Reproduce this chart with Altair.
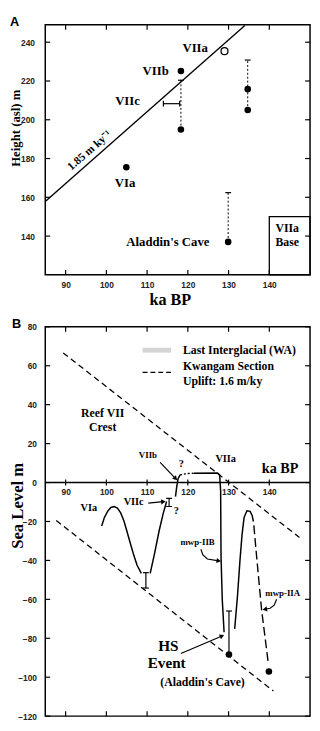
import math
import altair as alt
import pandas as pd

SERIF = "Liberation Serif"
SANS = "Liberation Sans"
W = 270
HA = 255
HB = 397

# ---------------- Panel A data ----------------
A_KA = [85, 150]
A_H = [120, 249]
A_KA_TICKS = [90, 100, 110, 120, 130, 140]
A_H_TICKS = [140, 160, 180, 200, 220, 240]

uplift_ka = [85.0, 134.0]
uplift_h = [157.8, 248.6]

dated_ka = [118.3, 118.3, 134.7, 134.7, 104.9, 129.9]
dated_h = [225.2, 195.0, 215.8, 205.0, 175.5, 137.0]
viia_ka = [129.0]
viia_h = [235.4]

range_ka = [118.3, 134.7, 129.9]
range_low = [195.0, 205.0, 137.0]
range_high = [220.4, 230.8, 162.4]

viic_low = [114.0]
viic_high = [118.0]
viic_h = [208.3]

base_ka = [140.0, 150.0]
base_h = [120.0, 150.0]

a_labels = ["VIIa", "VIIb", "VIIc", "VIa", "Aladdin's Cave"]
a_label_ka = [121.8, 112.1, 105.2, 104.6, 115.1]
a_label_h = [237.0, 225.3, 209.7, 167.3, 137.0]
a_base_labels = ["VIIa", "Base"]
a_base_ka = [144.4, 144.4]
a_base_h = [144.0, 137.0]
a_rate_label = ["1.85 m ky\u207b\u00b9"]
a_rate_ka = [95.9]
a_rate_h = [184.0]

# ---------------- Panel B data ----------------
B_KA = [85, 150]
B_SL = [-120, 80]
B_KA_TICKS = [90, 100, 110, 120, 130, 140]
B_SL_TICKS = [-120, -100, -80, -60, -40, -20, 0, 20, 40, 60, 80]

crest_ka = [89.4, 147.4]
crest_sl = [66.6, -28.2]
foot_ka = [87.7, 141.0]
foot_sl = [-19.5, -107.1]

via_ka = [98.85, 99.49, 100.30, 101.10, 101.91, 102.71, 103.52, 104.32, 105.13, 105.93, 106.74, 107.54, 108.59]
via_sl = [-22.3, -18.1, -14.8, -12.8, -12.3, -13.1, -15.6, -19.8, -25.7, -31.6, -37.4, -42.5, -46.7]
viic_ka = [110.76, 111.81, 112.94, 113.99, 114.79]
viic_sl = [-46.7, -36.6, -24.9, -15.6, -9.7]
viib_ka = [116.97, 117.25, 117.6, 118.1]
viib_sl = [-7.2, -2.5, 2.0, 3.9]
dot_ka = [118.1, 119.5, 121.5]
dot_sl = [3.9, 4.6, 4.8]
viia2_ka = [121.5, 127.3, 127.8, 128.05, 128.15, 128.45, 128.9]
viia2_sl = [4.8, 4.9, 4.0, -4.0, -38.0, -60.0, -76.9]
hs_ka = [131.5, 132.2, 132.8, 133.3, 133.8, 134.5, 135.3, 135.8, 136.1]
hs_sl = [-75.2, -58.0, -40.0, -27.0, -18.0, -14.5, -14.8, -17.0, -20.0]
iia_ka = [136.2, 136.9, 138.1, 139.8]
iia_sl = [-22.0, -38.3, -65.2, -93.7]

bar_ka = [109.7, 115.4, 130.1]
bar_low = [-54.2, -12.3, -88.3]
bar_high = [-46.3, -8.1, -66.0]
cap_ka = [109.7, 109.7, 115.4, 115.4, 130.1]
cap_sl = [-54.2, -46.3, -12.3, -8.1, -66.0]

pt_ka = [130.1, 139.9]
pt_sl = [-88.3, -97.1]

arrows = [
    ("VIIb", [113.2, 117.0], [10.4, 2.0]),
    ("VIIc", [110.3, 114.0], [-10.6, -9.8]),
    ("mwp-IIB", [123.2, 123.7, 124.8, 127.6], [-34.3, -37.2, -39.3, -40.2]),
    ("mwp-IIA", [141.8, 141.2, 140.2, 138.9], [-60.0, -63.0, -64.6, -65.1]),
    ("HS", [118.3, 128.4], [-87.8, -78.8]),
]

legend_ka = [108.9, 115.9]
legend_gray_sl = [68.0, 68.0]
legend_dash_sl = [56.6, 56.6]
legend_labels = ["Last Interglacial (WA)", "Kwangam Section", "Uplift: 1.6 m/ky"]
legend_label_ka = [118.8, 118.8, 118.8]
legend_label_sl = [68.0, 60.0, 52.0]

b_big = ["HS", "Event"]
b_big_ka = [115.2, 114.8]
b_big_sl = [-83.8, -92.8]
b_mid = ["Reef VII", "Crest", "(Aladdin's Cave)"]
b_mid_ka = [99.1, 99.1, 123.6]
b_mid_sl = [35.6, 28.4, -102.6]
b_small = ["VIIa", "VIa", "?", "?", "VIIc"]
b_small_ka = [129.3, 95.7, 118.4, 117.2, 106.7]
b_small_sl = [12.1, -13.1, 9.6, -14.8, -10.2]
b_tiny = ["VIIb", "mwp-IIB", "mwp-IIA"]
b_tiny_ka = [110.2, 122.4, 143.3]
b_tiny_sl = [14.1, -30.7, -56.8]

# ---------------- axes / styles ----------------
LBL = dict(labelFont=SANS, labelFontSize=8.5, labelFontWeight="bold", labelColor="#222",
           labelOverlap=False, ticks=False, tickSize=0, domain=False, grid=False)
TTL = dict(titleFont=SERIF, titleFontWeight="bold", titleColor="black")

a_xaxis = alt.Axis(values=A_KA_TICKS, format="d", labelPadding=6, title="ka BP",
                   titleFontSize=16.5, titleX=127, titleY=30, titleBaseline="alphabetic",
                   titleAlign="center", **LBL, **TTL)
a_yaxis = alt.Axis(values=A_H_TICKS, format="d", labelPadding=11, title="Height (asl) m",
                   titleFontSize=13, titleX=-23, titleY=105, titleAngle=270,
                   titleAlign="center", titleBaseline="bottom", **LBL, **TTL)
b_xaxis = alt.Axis(values=B_KA_TICKS, format="d", orient="bottom", offset=-(HB - 80 * HB / 200),
                   labelPadding=5, title="ka BP", titleFontSize=14.5, titleX=239, titleY=-10,
                   titleBaseline="alphabetic", titleAlign="center", **LBL, **TTL)
b_yaxis = alt.Axis(values=B_SL_TICKS, format="d", labelPadding=9, title="Sea Level m",
                   titleFontSize=17, titleX=-19, titleY=182, titleAngle=270,
                   titleAlign="center", titleBaseline="bottom", **LBL, **TTL)

PA = {"xd": A_KA, "yd": A_H, "xa": a_xaxis, "ya": a_yaxis, "w": W, "h": HA}
PB = {"xd": B_KA, "yd": B_SL, "xa": b_xaxis, "ya": b_yaxis, "w": W, "h": HB}


# ---------------- helpers ----------------
def sx(P):
    return alt.X("x", type="quantitative",
                 scale=alt.Scale(domain=P["xd"], nice=False, zero=False), axis=P["xa"])


def sy(P):
    return alt.Y("y", type="quantitative",
                 scale=alt.Scale(domain=P["yd"], nice=False, zero=False), axis=P["ya"])


def line_df(segments):
    rows = []
    for name, kas, vals in segments:
        for i, (k, v) in enumerate(zip(kas, vals)):
            rows.append({"seg": name, "i": i, "x": k, "y": v})
    return pd.DataFrame(rows)


def lines(segments, P, **mk):
    return alt.Chart(line_df(segments)).mark_line(**mk).encode(
        x=sx(P), y=sy(P), detail="seg:N", order="i:Q")


def texts(labels, kas, vals, P, size, **kw):
    df = pd.DataFrame({"t": labels, "x": kas, "y": vals})
    return alt.Chart(df).mark_text(font=SERIF, fontWeight="bold", fontSize=size,
                                   color="black", **kw).encode(
        x=sx(P), y=sy(P), text="t:N")


def frame_ticks(xt, yt, P, L=5):
    w, h = P["w"], P["h"]
    dx = pd.DataFrame({"x": xt})
    dy = pd.DataFrame({"y": yt})
    st = dict(color="black", strokeWidth=1.2)
    return [
        alt.Chart(dy).mark_rule(**st).encode(y=sy(P), x=alt.value(0), x2=alt.value(L)),
        alt.Chart(dy).mark_rule(**st).encode(y=sy(P), x=alt.value(w - L), x2=alt.value(w)),
        alt.Chart(dx).mark_rule(**st).encode(x=sx(P), y=alt.value(0), y2=alt.value(L)),
        alt.Chart(dx).mark_rule(**st).encode(x=sx(P), y=alt.value(h - L), y2=alt.value(h)),
    ]


def arrow_heads(arrs, P):
    xd, yd = P["xd"], P["yd"]
    kx = P["w"] / (xd[1] - xd[0])
    ky = P["h"] / (yd[1] - yd[0])
    rows = []
    for name, kas, vals in arrs:
        dxp = (kas[-1] - kas[-2]) * kx
        dup = (vals[-1] - vals[-2]) * ky
        ang = math.degrees(math.atan2(dxp, dup)) % 360
        rows.append({"x": kas[-1], "y": vals[-1], "a": ang})
    return alt.Chart(pd.DataFrame(rows)).mark_point(
        shape="triangle-up", filled=True, size=28, color="black", opacity=1).encode(
        x=sx(P), y=sy(P), angle=alt.Angle("a:Q", scale=None))


def panel_letter(letter, x, y, baseline):
    return alt.Chart(pd.DataFrame({"t": [letter]})).mark_text(
        font=SANS, fontWeight="bold", fontSize=13, align="left", baseline=baseline,
        color="black").encode(text="t:N", x=alt.value(x), y=alt.value(y))


# ---------------- Panel A ----------------
a_layers = frame_ticks(A_KA_TICKS, A_H_TICKS, PA)
a_layers.append(lines([("rate", uplift_ka, uplift_h)], PA, color="black", strokeWidth=1.4))

rng = pd.DataFrame({"x": range_ka, "y": range_low, "y2": range_high})
a_layers.append(alt.Chart(rng).mark_rule(color="black", strokeWidth=1, strokeDash=[2, 2]).encode(
    x=sx(PA), y=sy(PA), y2="y2"))
a_layers.append(alt.Chart(pd.DataFrame({"x": range_ka, "y": range_high})).mark_tick(
    orient="horizontal", size=6, thickness=1.2, color="black", opacity=1).encode(x=sx(PA), y=sy(PA)))

hb = pd.DataFrame({"x": viic_low, "x2": viic_high, "y": viic_h})
a_layers.append(alt.Chart(hb).mark_rule(color="black", strokeWidth=1.2).encode(
    x=sx(PA), x2="x2", y=sy(PA)))
a_layers.append(alt.Chart(pd.DataFrame({"x": viic_low + viic_high, "y": viic_h * 2})).mark_tick(
    orient="vertical", size=6, thickness=1.2, color="black", opacity=1).encode(x=sx(PA), y=sy(PA)))

box = pd.DataFrame({"x": [base_ka[0]], "x2": [base_ka[1]], "y": [base_h[0]], "y2": [base_h[1]]})
a_layers.append(alt.Chart(box).mark_rect(fill="white", fillOpacity=0, stroke="black",
                                         strokeWidth=1.3).encode(
    x=sx(PA), x2="x2", y=sy(PA), y2="y2"))

a_layers.append(alt.Chart(pd.DataFrame({"x": dated_ka, "y": dated_h})).mark_circle(
    size=45, color="black", opacity=1).encode(x=sx(PA), y=sy(PA)))
a_layers.append(alt.Chart(pd.DataFrame({"x": viia_ka, "y": viia_h})).mark_point(
    shape="circle", filled=False, size=50, stroke="black", strokeWidth=1.3, fill="white",
    opacity=1).encode(x=sx(PA), y=sy(PA)))

a_layers.append(texts(a_labels, a_label_ka, a_label_h, PA, 13))
a_layers.append(texts(a_base_labels, a_base_ka, a_base_h, PA, 12))
a_layers.append(texts(a_rate_label, a_rate_ka, a_rate_h, PA, 11.5, angle=318.6))
a_layers.append(panel_letter("A", -36, -9, "top"))

panel_a = alt.layer(*a_layers).properties(width=W, height=HA)

# ---------------- Panel B ----------------
b_layers = frame_ticks(B_KA_TICKS, B_SL_TICKS, PB)

b_layers.append(alt.Chart(pd.DataFrame({"y": [0]})).mark_rule(color="black", strokeWidth=1.5).encode(
    y=sy(PB)))
b_layers.append(alt.Chart(pd.DataFrame({"x": B_KA_TICKS, "y": [0] * len(B_KA_TICKS)})).mark_tick(
    orient="vertical", size=6, thickness=1.2, color="black", opacity=1).encode(x=sx(PB), y=sy(PB)))

b_layers.append(lines([("crest", crest_ka, crest_sl), ("foot", foot_ka, foot_sl)], PB,
                      color="black", strokeWidth=1.3, strokeDash=[6, 4]))
b_layers.append(lines([("gray", legend_ka, legend_gray_sl)], PB, color="#d4d4d4", strokeWidth=5))
b_layers.append(lines([("dash", legend_ka, legend_dash_sl)], PB,
                      color="black", strokeWidth=1.5, strokeDash=[5, 3]))

b_layers.append(lines([("via", via_ka, via_sl), ("viic", viic_ka, viic_sl),
                       ("viib", viib_ka, viib_sl), ("viia", viia2_ka, viia2_sl),
                       ("hs", hs_ka, hs_sl)], PB, color="black", strokeWidth=1.5))
b_layers.append(lines([("dot", dot_ka, dot_sl)], PB, color="black", strokeWidth=1.4, strokeDash=[2, 2]))
b_layers.append(lines([("iia", iia_ka, iia_sl)], PB, color="black", strokeWidth=1.4, strokeDash=[9, 4]))

bars = pd.DataFrame({"x": bar_ka, "y": bar_low, "y2": bar_high})
b_layers.append(alt.Chart(bars).mark_rule(color="black", strokeWidth=1.2).encode(
    x=sx(PB), y=sy(PB), y2="y2"))
b_layers.append(alt.Chart(pd.DataFrame({"x": cap_ka, "y": cap_sl})).mark_tick(
    orient="horizontal", size=6, thickness=1.2, color="black", opacity=1).encode(x=sx(PB), y=sy(PB)))

b_layers.append(lines(arrows, PB, color="black", strokeWidth=1.2))
b_layers.append(arrow_heads(arrows, PB))

b_layers.append(alt.Chart(pd.DataFrame({"x": pt_ka, "y": pt_sl})).mark_circle(
    size=45, color="black", opacity=1).encode(x=sx(PB), y=sy(PB)))

b_layers.append(texts(b_big, b_big_ka, b_big_sl, PB, 15.5))
b_layers.append(texts(b_mid, b_mid_ka, b_mid_sl, PB, 12))
b_layers.append(texts(b_small, b_small_ka, b_small_sl, PB, 10.5))
b_layers.append(texts(b_tiny, b_tiny_ka, b_tiny_sl, PB, 9))
b_layers.append(texts(legend_labels, legend_label_ka, legend_label_sl, PB, 12, align="left"))
b_layers.append(panel_letter("B", -34, 1, "alphabetic"))

panel_b = alt.layer(*b_layers).properties(width=W, height=HB)

chart = alt.vconcat(panel_a, panel_b, spacing=53, bounds="flush").properties(
    padding=0
).configure_view(stroke="black", strokeWidth=1.5)

chart.save("out.html", embed_options={"renderer": "svg", "actions": False})
